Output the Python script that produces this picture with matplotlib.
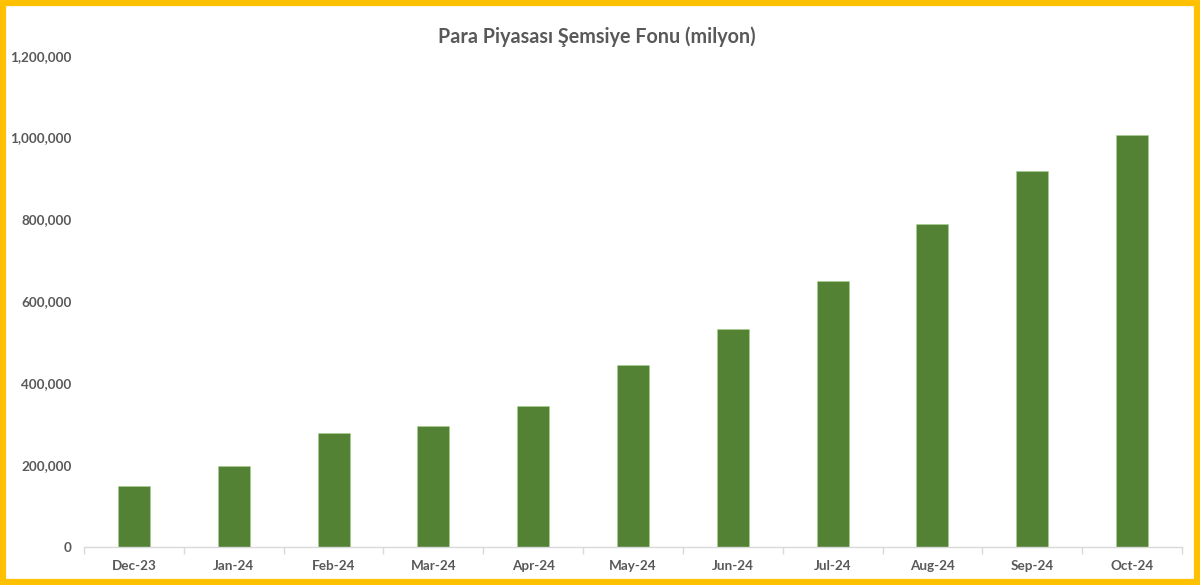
import matplotlib
matplotlib.use('Agg')
from matplotlib import pyplot as plt
from matplotlib.patches import Rectangle
from matplotlib.ticker import FuncFormatter
import numpy as np

# Data
months = ['Dec-23', 'Jan-24', 'Feb-24', 'Mar-24', 'Apr-24', 'May-24',
          'Jun-24', 'Jul-24', 'Aug-24', 'Sep-24', 'Oct-24']
fund_size = [148000, 197600, 278000, 294600, 344000, 444500,
             531000, 650000, 788000, 918000, 1005000]

text_color = '#595959'
bar_color = '#548235'

plt.rcParams['font.family'] = ['Lato', 'DejaVu Sans']

fig = plt.figure(figsize=(12, 5.85), dpi=100)
ax = fig.add_axes([0.07, 0.0658, 0.915, 0.839])

x = np.arange(len(months))
ax.bar(x, fund_size, width=0.32, color=bar_color, edgecolor='#A9D18E', linewidth=0.4)

ax.set_xlim(-0.5, len(months) - 0.5)
ax.set_ylim(0, 1200000)
ax.set_yticks(np.arange(0, 1200001, 200000))
ax.yaxis.set_major_formatter(FuncFormatter(lambda v, p: f'{int(v):,}'))

ax.set_xticks(x)
ax.set_xticklabels(months)
ax.set_xticks(np.arange(-0.5, len(months)), minor=True)
ax.tick_params(axis='x', which='major', length=0, pad=10)
ax.tick_params(axis='x', which='minor', length=5, color='#D9D9D9', width=1)
ax.tick_params(axis='y', length=0, pad=9)

for lbl in ax.get_xticklabels() + ax.get_yticklabels():
    lbl.set_fontsize(9.7)
    lbl.set_fontweight('bold')
    lbl.set_color(text_color)

for side in ['top', 'right', 'left']:
    ax.spines[side].set_visible(False)
ax.spines['bottom'].set_color('#D9D9D9')
ax.spines['bottom'].set_linewidth(1)

fig.text(0.4975, 0.937, 'Para Piyasası Şemsiye Fonu (milyon)', ha='center', va='center',
         fontsize=14.2, fontweight='bold', color=text_color)

# Yellow frame around the chart
fig.patches.append(Rectangle((0.0025, 0.005), 0.995, 0.99, transform=fig.transFigure,
                             fill=False, edgecolor='#FFC000', linewidth=4.5))

plt.savefig('out.png', dpi=100)
